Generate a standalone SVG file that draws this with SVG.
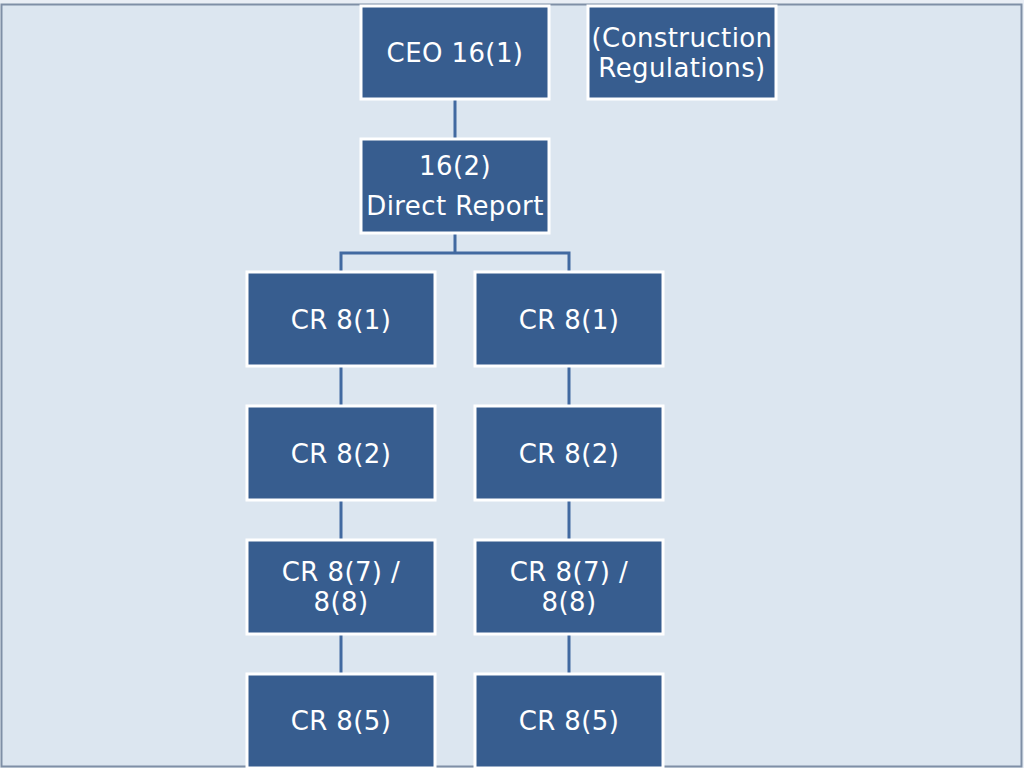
<svg xmlns="http://www.w3.org/2000/svg" width="1024" height="768" viewBox="0 0 1024 768">
<style>
.box{fill:#375d8f;stroke:#ffffff;stroke-width:3}
.t{font-family:"DejaVu Sans","Verdana",sans-serif;font-size:26px;letter-spacing:0.4px;fill:#ffffff;text-anchor:middle}
.c{fill:none;stroke:#4169a0;stroke-width:3}
</style>
<rect x="0" y="0" width="1024" height="768" fill="#e9eef5"/>
<rect x="1.5" y="4.5" width="1020" height="762" fill="#dce6f0" stroke="#7f8fa6" stroke-width="2"/>
<g id="connectors">
<path class="c" d="M455 99V139"/>
<path class="c" d="M455 233V253H341V272M455 253H569V272"/>
<path class="c" d="M341 366V406M341 500V540M341 634V674"/>
<path class="c" d="M569 366V406M569 500V540M569 634V674"/>
</g>
<g id="ceo"><rect class="box" x="361" y="6" width="188" height="93"/><text class="t" x="455" y="62">CEO 16(1)</text></g>
<g id="construction"><rect class="box" x="588" y="6" width="188" height="93"/><text class="t" x="682" y="47">(Construction</text><text class="t" x="682" y="77">Regulations)</text></g>
<g id="direct"><rect class="box" x="361" y="139" width="188" height="94"/><text class="t" x="455" y="175">16(2)</text><text class="t" x="455" y="215">Direct Report</text></g>
<g id="l1"><rect class="box" x="247" y="272" width="188" height="94"/><text class="t" x="341" y="329">CR 8(1)</text></g>
<g id="r1"><rect class="box" x="475" y="272" width="188" height="94"/><text class="t" x="569" y="329">CR 8(1)</text></g>
<g id="l2"><rect class="box" x="247" y="406" width="188" height="94"/><text class="t" x="341" y="463">CR 8(2)</text></g>
<g id="r2"><rect class="box" x="475" y="406" width="188" height="94"/><text class="t" x="569" y="463">CR 8(2)</text></g>
<g id="l3"><rect class="box" x="247" y="540" width="188" height="94"/><text class="t" x="341" y="581">CR 8(7) /</text><text class="t" x="341" y="611">8(8)</text></g>
<g id="r3"><rect class="box" x="475" y="540" width="188" height="94"/><text class="t" x="569" y="581">CR 8(7) /</text><text class="t" x="569" y="611">8(8)</text></g>
<g id="l4"><rect class="box" x="247" y="674" width="188" height="94"/><text class="t" x="341" y="730">CR 8(5)</text></g>
<g id="r4"><rect class="box" x="475" y="674" width="188" height="94"/><text class="t" x="569" y="730">CR 8(5)</text></g>
</svg>
